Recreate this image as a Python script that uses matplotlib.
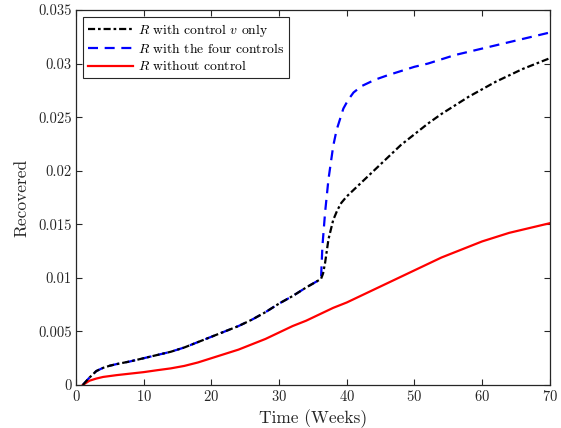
import matplotlib
matplotlib.use("Agg")
import matplotlib.pyplot as plt
from matplotlib.ticker import FixedLocator, FixedFormatter

plt.rcParams['font.family'] = ['cmr10', 'DejaVu Serif']
plt.rcParams['mathtext.fontset'] = 'cm'
plt.rcParams['axes.unicode_minus'] = False
plt.rcParams['axes.formatter.use_mathtext'] = True

# Shared early part (both controlled cases coincide until the jump)
t_early = [1, 2, 3, 4, 5, 6, 8, 10, 12, 14, 16, 18, 20, 22, 24, 26, 28, 30,
           32, 34, 36.2]
r_early = [0, 0.0007, 0.0013, 0.0016, 0.0018, 0.00195, 0.0022, 0.0025, 0.0028,
           0.0031, 0.0035, 0.0040, 0.0045, 0.0050, 0.0055, 0.0061, 0.0068,
           0.0076, 0.0083, 0.0091, 0.0099]

# R with control v only (after week 36)
t_v_late = [36.5, 36.8, 37.3, 38.0, 38.6, 39.2, 40, 41, 42, 43, 44, 45, 46,
            48, 50, 52, 54, 56, 58, 60, 62, 64, 66, 68, 70]
r_v_late = [0.0104, 0.0114, 0.0136, 0.0154, 0.0163, 0.0170, 0.0176, 0.0182,
            0.0188, 0.0194, 0.0200, 0.0206, 0.0212, 0.0224, 0.0234, 0.0244,
            0.0253, 0.0261, 0.0269, 0.0276, 0.0283, 0.0289, 0.0295, 0.0300,
            0.0305]

# R with the four controls (after week 36)
t_four_late = [36.4, 36.8, 37.3, 38.0, 38.5, 39.0, 39.5, 40.2, 41.0, 42.2,
               44.2, 46, 48, 50, 52, 54, 56, 58, 60, 62, 64, 66, 68, 70]
r_four_late = [0.0129, 0.0161, 0.0192, 0.0223, 0.0238, 0.0248, 0.0258, 0.0266,
               0.0273, 0.0279, 0.0285, 0.0289, 0.0293, 0.0297, 0.0300, 0.0304,
               0.0308, 0.0311, 0.0314, 0.0317, 0.0320, 0.0323, 0.0326, 0.0329]

# R without control
t_none = [1, 2, 3, 4, 6, 8, 10, 12, 14, 16, 18, 20, 22, 24, 26, 28, 30, 32,
          34, 36, 38, 40, 42, 44, 46, 48, 50, 52, 54, 56, 58, 60, 62, 64, 66,
          68, 70]
r_none = [0, 0.0004, 0.0006, 0.00075, 0.00092, 0.00106, 0.0012, 0.00138,
          0.00155, 0.00178, 0.0021, 0.0025, 0.0029, 0.0033, 0.0038, 0.0043,
          0.0049, 0.0055, 0.0060, 0.0066, 0.0072, 0.0077, 0.0083, 0.0089,
          0.0095, 0.0101, 0.0107, 0.0113, 0.0119, 0.0124, 0.0129, 0.0134,
          0.0138, 0.0142, 0.0145, 0.0148, 0.0151]

xticks = [0, 10, 20, 30, 40, 50, 60, 70]
yticks = [0, 0.005, 0.01, 0.015, 0.02, 0.025, 0.03, 0.035]
ytick_labels = ['0', '0.005', '0.01', '0.015', '0.02', '0.025', '0.03', '0.035']

fig = plt.figure(figsize=(5.61, 4.28), dpi=100)
ax = fig.add_axes([0.1355, 0.1005, 0.8445, 0.8761])

t_v = t_early + t_v_late
r_v = r_early + r_v_late
t_f = t_early + t_four_late
r_f = r_early + r_four_late

ax.plot(t_v, r_v, color='black', lw=1.6, linestyle=(0, (3.2, 1.3, 1.2, 1.3)),
        label=r'$R$ with control $v$ only', zorder=3)
ax.plot(t_f, r_f, color='blue', lw=1.6, linestyle=(0, (4.5, 3.0)),
        label=r'$R$ with the four controls', zorder=2)
ax.plot(t_none, r_none, color='red', lw=1.6, label=r'$R$ without control')

ax.set_xlim(0, 70)
ax.set_ylim(0, 0.035)
ax.xaxis.set_major_locator(FixedLocator(xticks))
ax.yaxis.set_major_locator(FixedLocator(yticks))
ax.yaxis.set_major_formatter(FixedFormatter(ytick_labels))
ax.tick_params(direction='in', top=True, right=True, length=4, width=0.8,
               labelsize=10.5, colors='#262626', pad=3)
for s in ax.spines.values():
    s.set_color('#262626')
    s.set_linewidth(0.9)

ax.set_xlabel('Time (Weeks)', fontsize=12.5, color='#262626', labelpad=4)
ax.set_ylabel('Recovered', fontsize=12.5, color='#262626', labelpad=6)

leg = ax.legend(loc='upper left', fontsize=9.8, frameon=True, fancybox=False,
                edgecolor='#262626', framealpha=1, handlelength=3.3,
                borderaxespad=0.5, labelspacing=0.25, handletextpad=0.4,
                borderpad=0.35)
leg.get_frame().set_linewidth(0.8)

fig.savefig('out.png', dpi=100)
